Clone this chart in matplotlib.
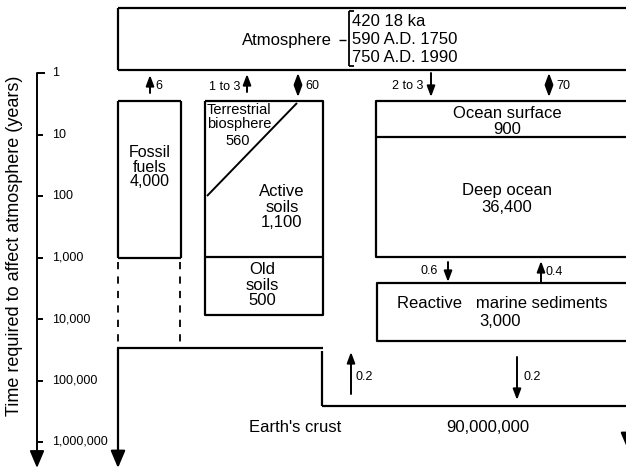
import numpy as np
import matplotlib
matplotlib.use("Agg")
import matplotlib.pyplot as plt
from matplotlib.patches import FancyArrowPatch

plt.rcParams['font.family'] = ['Liberation Sans', 'DejaVu Sans']

# ---- data ----
tick_values = [1, 10, 100, 1000, 10000, 100000, 1000000]
tick_labels = ["1", "10", "100", "1,000", "10,000", "100,000", "1,000,000"]
axis_label = "Time required to affect atmosphere (years)"

atmos_history = ["420 18 ka", "590 A.D. 1750", "750 A.D. 1990"]

reservoir_names = ["Atmosphere", "Fossil\nfuels", "Terrestrial\nbiosphere", "Active\nsoils",
                   "Old\nsoils", "Ocean surface", "Deep ocean",
                   "Reactive   marine sediments", "Earth's crust"]
reservoir_sizes = ["", "4,000", "560", "1,100", "500", "900", "36,400", "3,000", "90,000,000"]

flux_labels = ["6", "1 to 3", "60", "2 to 3", "70", "0.6", "0.4", "0.2", "0.2"]
flux_dirs = ["up", "up", "both", "down", "both", "down", "up", "up", "down"]

# ---- figure (pixel coordinates) ----
W, H = 626, 470
fig = plt.figure(figsize=(W / 100, H / 100), dpi=100)
ax = fig.add_axes([0, 0, 1, 1])
ax.set_xlim(0, W)
ax.set_ylim(H, 0)
ax.axis('off')

LW = 1.6
K = 'black'
FS = 12       # reservoir text
FS_FLUX = 9   # flux labels
FS_TICK = 9

def line(xs, ys, **kw):
    kw.setdefault('lw', LW)
    kw.setdefault('color', K)
    ax.plot(xs, ys, solid_capstyle='butt', **kw)

def arrow(x, y0, y1, style='-|>', scale=8, lw=1.4):
    ax.add_patch(FancyArrowPatch((x, y0), (x, y1), arrowstyle=style,
                                 mutation_scale=scale, lw=lw, color=K,
                                 shrinkA=0, shrinkB=0))

BIG = '-|>,head_length=1.3,head_width=0.55'

# ---- time axis (log scale mapped to pixels) ----
y_top, dec = 73, 61.5
def ty(v):
    return y_top + np.log10(v) * dec

arrow(37, y_top, 468, style=BIG, scale=8, lw=1.4)
for i, (v, lab) in enumerate(zip(tick_values, tick_labels)):
    y = ty(v)
    line([37, 45 if i == 0 else 43], [y, y], lw=1.4)
    ax.text(52, y, lab, fontsize=FS_TICK, va='center', ha='left')
ax.text(15, 246, axis_label, rotation=90, fontsize=13, va='center', ha='center')

# ---- atmosphere box ----
line([118, W + 5], [8, 8])
line([118, W + 5], [70, 70])
line([118, 118], [8, 70])
ax.text(287, 40, reservoir_names[0], fontsize=FS, ha='center', va='center')
# bracket
line([339, 346], [40, 40], lw=1.0)
line([349, 349], [11, 66], lw=1.3)
line([349, 354], [11, 11], lw=1.3)
line([349, 354], [66, 66], lw=1.3)
for j, t in enumerate(atmos_history):
    ax.text(352, 22 + j * 18, t, fontsize=FS, ha='left', va='center')

# ---- fossil fuels ----
line([118, 118], [101, 258])
line([181, 181], [101, 258])
line([118, 181], [101, 101])
line([118, 181], [258, 258])
line([118, 118], [262, 342], ls=(0, (4, 4)), lw=1.3)
line([180, 180], [262, 342], ls=(0, (4, 4)), lw=1.3)
ax.text(150, 167, reservoir_names[1] + "\n" + reservoir_sizes[1], fontsize=11.5,
        ha='center', va='center', linespacing=0.92)

# ---- terrestrial / soils ----
line([205, 205, 323, 323, 205], [101, 315, 315, 101, 101])
line([205, 323], [257, 257])
line([207, 297], [196, 103], lw=1.4)
ax.text(207, 103, reservoir_names[2], fontsize=10.5, ha='left', va='top', linespacing=1.0)
ax.text(238, 141, reservoir_sizes[2], fontsize=10.5, ha='center', va='center')
ax.text(282, 207, reservoir_names[3] + "\n" + reservoir_sizes[3], fontsize=FS,
        ha='center', va='center', linespacing=1.02)
ax.text(262, 285, reservoir_names[4] + "\n" + reservoir_sizes[4], fontsize=FS,
        ha='center', va='center', linespacing=1.02)

# ---- ocean ----
line([W + 5, 376, 376, W + 5], [101, 101, 257, 257])
line([376, W + 5], [137, 137])
ax.text(507, 113, reservoir_names[5], fontsize=FS, ha='center', va='center')
ax.text(507, 130, reservoir_sizes[5], fontsize=FS, ha='center', va='center')
ax.text(507, 191, reservoir_names[6], fontsize=FS, ha='center', va='center')
ax.text(507, 207, reservoir_sizes[6], fontsize=FS, ha='center', va='center')

# ---- reactive marine sediments ----
line([W + 5, 377, 377, W + 5], [283, 283, 341, 341])
ax.text(502, 303, reservoir_names[7], fontsize=FS, ha='center', va='center')
ax.text(500, 321, reservoir_sizes[7], fontsize=FS, ha='center', va='center')

# ---- earth's crust ----
arrow(118, 348, 468, style=BIG, scale=8, lw=LW)
line([117, 323], [348, 348])
line([322, 322], [351, 406])
line([322, W + 5], [406, 406])
arrow(628, 406, 450, style=BIG, scale=8, lw=LW)
ax.text(295, 427, reservoir_names[8], fontsize=FS, ha='center', va='center')
ax.text(488, 427, reservoir_sizes[8], fontsize=FS, ha='center', va='center')

# ---- fluxes ----
flux_geom = [  # x, y_top, y_bottom, label x, label y, label ha
    (150, 75, 93, 155, 86, 'left'),
    (247, 74, 92, 240, 87, 'right'),
    (298, 73, 97, 305, 86, 'left'),
    (431, 73, 97, 423, 86, 'right'),
    (549, 73, 97, 556, 86, 'left'),
    (448, 262, 282, 438, 271, 'right'),
    (541, 261, 282, 546, 272, 'left'),
    (351, 352, 394, 356, 377, 'left'),
    (517, 357, 400, 524, 377, 'left'),
]
for (x, yt, yb, lx, ly, ha), lab, d in zip(flux_geom, flux_labels, flux_dirs):
    if d == 'up':
        arrow(x, yb, yt, style='-|>,head_length=0.8,head_width=0.3')
    elif d == 'down':
        arrow(x, yt, yb, style='-|>,head_length=0.8,head_width=0.3')
    else:
        arrow(x, yt, yb, style='<|-|>,head_length=0.8,head_width=0.3')
    ax.text(lx, ly, lab, fontsize=FS_FLUX, ha=ha, va='center')

fig.savefig("out.png", dpi=100)
